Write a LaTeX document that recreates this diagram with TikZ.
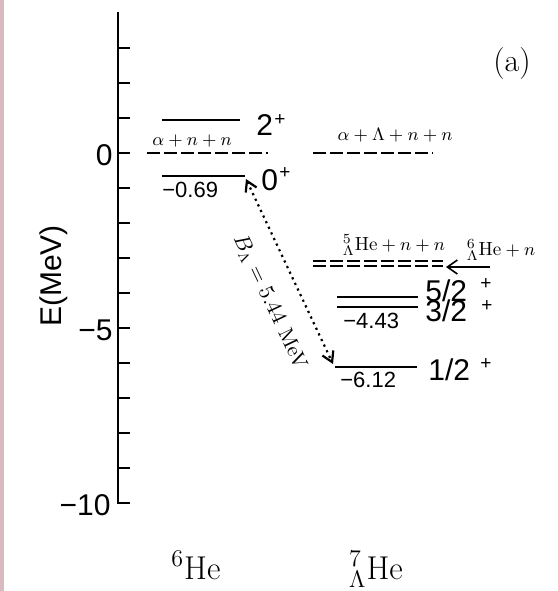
\documentclass[tikz,border=0pt]{standalone}
\usepackage{fontspec}
\newfontfamily\hv{Liberation Sans}
\usetikzlibrary{arrows.meta}
\definecolor{stripe}{RGB}{216,186,192}
\begin{document}
\begin{tikzpicture}[x=0.5pt,y=-0.5pt,
  lvl/.style={line width=1.05pt},
  thr/.style={line width=1pt, dash pattern=on 6.5pt off 2pt},
  tickmark/.style={line width=0.8pt},
  sf/.style={font=\hv\fontsize{15}{17}\selectfont, inner sep=0pt},
  sfs/.style={font=\hv\fontsize{11}{13}\selectfont, inner sep=0pt},
  sfp/.style={font=\hv\fontsize{9.5}{11}\selectfont, inner sep=0pt},
  mth/.style={font=\fontsize{9.5}{11}\selectfont, inner sep=0pt},
  big/.style={font=\fontsize{16.5}{19}\selectfont, inner sep=0pt},
]
% canvas
\fill[white] (0,0) rectangle (558,591);
\fill[stripe] (0,0) rectangle (4,591);
\useasboundingbox (0,0) rectangle (558,591);

% axis
\coordinate (atop) at (118,12);
\coordinate (abot) at (118,503);
\coordinate (aend) at (130,503);
\draw[line width=1.05pt] (atop) -- (abot) -- (aend);
\foreach \k in {3,2,...,-9} \draw[tickmark] (118,{153-35*\k}) -- ++(12,0);
\node[sf, anchor=east] (t0) at (113,155) {0};
\node[sf, anchor=east] (t5) at (113,330) {−5};
\node[sf, anchor=east] (t10) at (111,505) {−10};
\node[sf, rotate=90] (ylab) at (54,276) {E(MeV)};

% 6He
\coordinate (a2l) at (162,120); \coordinate (a2r) at (240,120);
\draw[lvl] (a2l) -- (a2r);
\node[sf, anchor=base west] (j2) at (256,135) {2};
\node[sfp] (j2p) at (280,120) {+};
\node[mth] (thr6) at (192,141) {$\alpha+n+n$};
\coordinate (d6l) at (147,153); \coordinate (d6r) at (268,153);
\draw[thr] (d6l) -- (d6r);
\coordinate (a0l) at (162,176); \coordinate (a0r) at (245,176);
\draw[lvl] (a0l) -- (a0r);
\node[sf, anchor=base west] (j0) at (261,190) {0};
\node[sfp] (j0p) at (285,173) {+};
\node[sfs, anchor=base west] (e0) at (162,197) {−0.69};

% 7He
\node[mth] (thr7) at (395,135) {$\alpha+\Lambda+n+n$};
\coordinate (d7l) at (313,153); \coordinate (d7r) at (433,153);
\draw[thr] (d7l) -- (d7r);
\node[mth] (thr5) at (394,245) {$^{5}_{\Lambda}\mathrm{He}+n+n$};
\coordinate (dd1l) at (313,261); \coordinate (dd1r) at (443,261);
\coordinate (dd2l) at (313,266); \coordinate (dd2r) at (443,266);
\draw[thr] (dd1l) -- (dd1r);
\draw[thr] (dd2l) -- (dd2r);
\node[mth] (thr6L) at (501,250) {$^{6}_{\Lambda}\mathrm{He}+n$};
\coordinate (arS) at (490,267); \coordinate (arE) at (446,267);
\draw[line width=0.8pt, -{Straight Barb[length=5pt,width=7pt]}] (arS) -- (arE);

\coordinate (l5l) at (337,297); \coordinate (l5r) at (418,297);
\draw[lvl] (l5l) -- (l5r);
\node[sf, anchor=base west] (j5) at (425,301) {5/2};
\node[sfp] (j5p) at (486,284) {+};
\coordinate (l3l) at (337,307); \coordinate (l3r) at (418,307);
\draw[lvl] (l3l) -- (l3r);
\node[sf, anchor=base west] (j3) at (425,321) {3/2};
\node[sfp] (j3p) at (487,306) {+};
\node[sfs, anchor=base west] (e3) at (343,328) {−4.43};

\coordinate (l1l) at (335,367); \coordinate (l1r) at (417,367);
\draw[lvl] (l1l) -- (l1r);
\node[sf, anchor=base west] (j1) at (428,380) {1/2};
\node[sfp] (j1p) at (486,364) {+};
\node[sfs, anchor=base west] (e1) at (340,387) {−6.12};

% binding energy arrow
\coordinate (bA) at (246,179);
\coordinate (bB) at (333,364);
\draw[dotted, line width=1.1pt, {Straight Barb[length=5pt,width=6pt]}-{Straight Barb[length=5pt,width=6pt]}] (bA) -- (bB);
\node[font=\fontsize{10.5}{12}\selectfont, inner sep=0pt, rotate=-64.7] (bl) at (270,302) {$B_\Lambda=5.44$ MeV};

% bottom labels and panel tag
\node[big, anchor=base] (n6) at (196,579) {$^{6}$He};
\node[big, anchor=base] (n7) at (376,579) {$^{7}_{\Lambda}\mathrm{He}$};
\node[font=\fontsize{16}{19}\selectfont, inner sep=0pt] (tag) at (512,64) {(a)};
\end{tikzpicture}
\end{document}
